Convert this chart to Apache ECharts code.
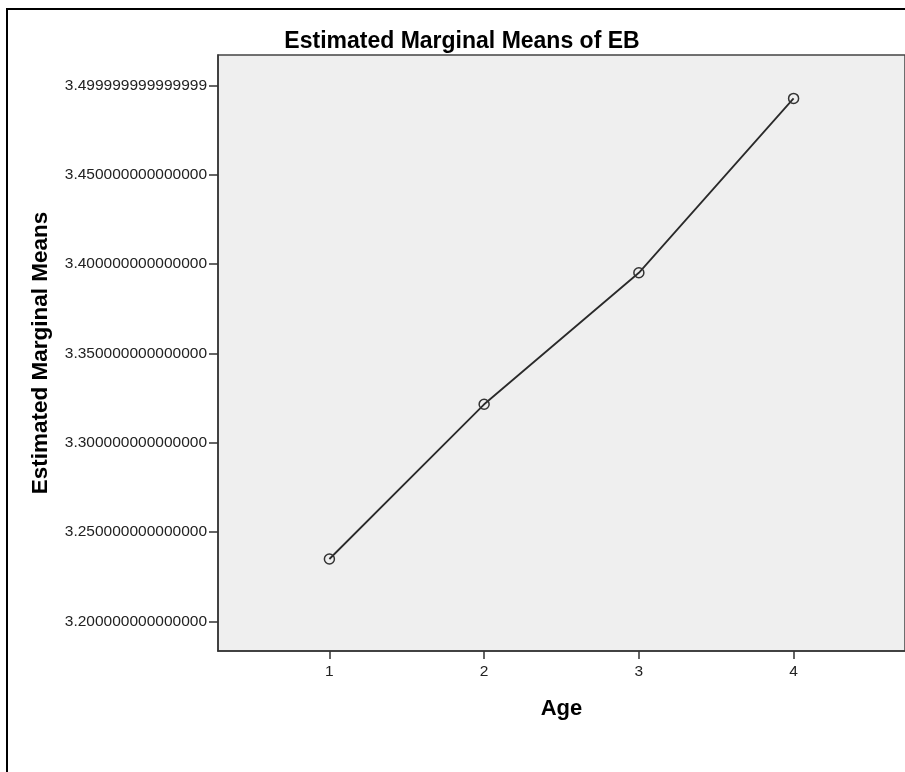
<!DOCTYPE html>
<html>
<head>
<meta charset="utf-8">
<title>Estimated Marginal Means of EB</title>
<script src="https://cdn.jsdelivr.net/npm/echarts@6/dist/echarts.min.js"></script>
<style>
  html, body { margin: 0; padding: 0; background: #ffffff; }
  #chart { width: 905px; height: 772px; }
</style>
</head>
<body>
<div id="chart"></div>
<script>
// Age groups and their estimated marginal means of EB
const ageLevels = [1, 2, 3, 4];
const marginalMeans = [3.2349, 3.3215, 3.3951, 3.4927];

// Y-axis tick positions and the labels printed beside them
const yTickValues = [3.2, 3.25, 3.3, 3.35, 3.4, 3.45, 3.5];
const yTickLabels = [
  '3.200000000000000',
  '3.250000000000000',
  '3.300000000000000',
  '3.350000000000000',
  '3.400000000000000',
  '3.450000000000000',
  '3.499999999999999'
];
const xTickValues = [1, 2, 3, 4];

const FONT = '"Liberation Sans", Arial, sans-serif';

function yLabelFor(v) {
  let best = 0, bestDist = Infinity;
  yTickValues.forEach(function (t, i) {
    const d = Math.abs(t - v);
    if (d < bestDist) { bestDist = d; best = i; }
  });
  return yTickLabels[best];
}

const chart = echarts.init(document.getElementById('chart'), null, { renderer: 'canvas' });

chart.setOption({
  backgroundColor: '#ffffff',
  animation: false,
  title: {
    text: 'Estimated Marginal Means of EB',
    left: 462,
    top: 30,
    textAlign: 'center',
    padding: 0,
    textStyle: { fontFamily: FONT, fontSize: 23, fontWeight: 'bold', color: '#000000' }
  },
  graphic: [{
    type: 'rect',
    silent: true,
    z: 100,
    shape: { x: 7, y: 9, width: 1000, height: 1000 },
    style: { fill: 'none', stroke: '#000000', lineWidth: 2 }
  }],
  grid: {
    left: 218,
    right: -3,
    top: 55,
    bottom: 121,
    show: true,
    backgroundColor: '#efefef',
    borderColor: '#444444',
    borderWidth: 1.5,
    containLabel: false
  },
  xAxis: {
    type: 'value',
    min: 0.28,
    max: 4.72,
    name: 'Age',
    nameLocation: 'middle',
    nameGap: 47,
    nameTextStyle: { fontFamily: FONT, fontSize: 22, fontWeight: 'bold', color: '#000000' },
    axisLine: { show: true, onZero: false, lineStyle: { color: '#333333', width: 1.5 } },
    axisTick: { show: true, length: 8, customValues: xTickValues, lineStyle: { color: '#333333', width: 1.5 } },
    axisLabel: {
      customValues: xTickValues,
      margin: 13,
      fontFamily: FONT,
      fontSize: 15.5,
      color: '#222222',
      formatter: function (v) { return String(Math.round(v)); }
    },
    splitLine: { show: false }
  },
  yAxis: {
    type: 'value',
    min: 3.1834,
    max: 3.5170,
    name: 'Estimated Marginal Means',
    nameLocation: 'middle',
    nameGap: 166,
    nameTextStyle: { fontFamily: FONT, fontSize: 22.5, fontWeight: 'bold', color: '#000000' },
    axisLine: { show: true, onZero: false, lineStyle: { color: '#333333', width: 1.5 } },
    axisTick: { show: true, length: 9, customValues: yTickValues, lineStyle: { color: '#333333', width: 1.5 } },
    axisLabel: {
      customValues: yTickValues,
      margin: 11,
      fontFamily: FONT,
      fontSize: 15.5,
      color: '#222222',
      formatter: function (v) { return yLabelFor(v); }
    },
    splitLine: { show: false }
  },
  series: [{
    type: 'line',
    data: ageLevels.map(function (a, i) { return [a, marginalMeans[i]]; }),
    symbol: 'circle',
    symbolSize: 10,
    showAllSymbol: true,
    lineStyle: { color: '#2a2a2a', width: 1.8 },
    itemStyle: { color: 'rgba(0,0,0,0)', borderColor: '#333333', borderWidth: 1.5 },
    emphasis: { disabled: true }
  }]
});
</script>
</body>
</html>
